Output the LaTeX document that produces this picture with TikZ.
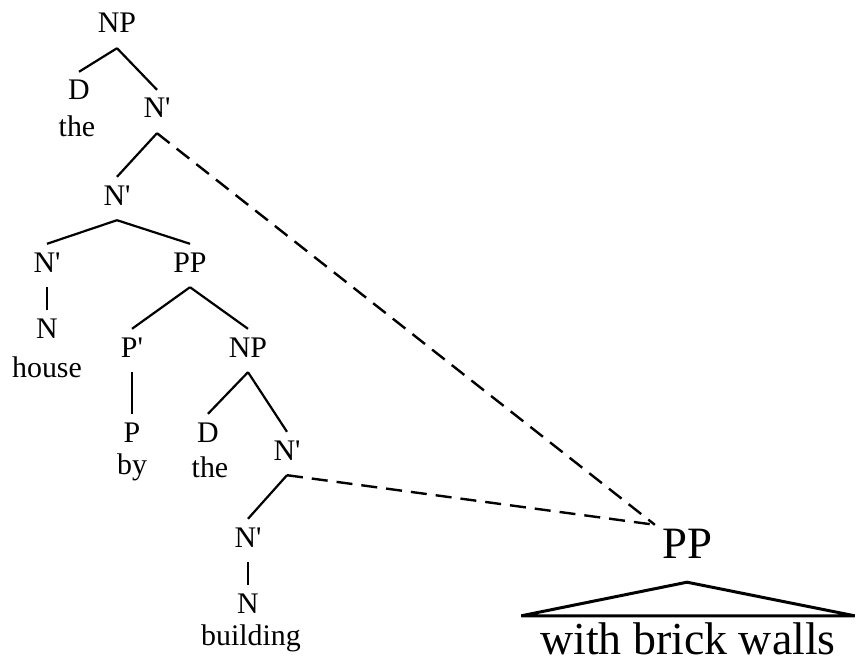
\documentclass[tikz,border=0pt]{standalone}
\usepackage{fontspec}
\newfontfamily\treefont{Liberation Serif}
\usepackage{tikz}

\begin{document}
\begin{tikzpicture}[x=1bp, y=-1bp,
  cat/.style={anchor=base, inner sep=0pt, text height=28bp, text depth=15bp,
    font=\treefont\fontsize{30}{32}\selectfont},
  word/.style={anchor=base, inner sep=0pt, font=\treefont\fontsize{30}{32}\selectfont},
  branch/.style={line width=2.2bp},
  moved/.style={line width=2.4bp, dash pattern=on 16bp off 9bp},
  roof/.style={line width=3bp, line join=bevel}]
  \useasboundingbox (0,0) rectangle (856,663);

  % Upper NP
  \node[cat] (np1) at (117,33) {NP};
  \node[cat] (d1) at (79,100) {D};
  \node[word] (the1) at (77,137) {the};
  \node[cat] (nb1) at (157,118) {N'};
  \node[cat] (nb2) at (117,205) {N'};
  \draw[branch] (np1.south) -- (d1.north);
  \draw[branch] (np1.south) -- (nb1.north);
  \draw[branch] (nb1.south) -- (nb2.north);

  % house + PP
  \node[cat] (nb3) at (47,272) {N'};
  \node[cat] (pp1) at (190,272) {PP};
  \node[cat] (n1) at (47,338) {N};
  \node[word] (house) at (47,377) {house};
  \draw[branch] (nb2.south) -- (nb3.north);
  \draw[branch] (nb2.south) -- (pp1.north);
  \draw[branch] (nb3.south) -- (n1.north);

  % by the building
  \node[cat] (pb1) at (132,357) {P'};
  \node[cat] (np2) at (248,357) {NP};
  \node[cat] (p1) at (132,442) {P};
  \node[word] (by) at (132,474) {by};
  \node[cat] (d2) at (208,442) {D};
  \node[word] (the2) at (210,477) {the};
  \node[cat] (nb4) at (287,460) {N'};
  \node[cat] (nb5) at (248,547) {N'};
  \node[cat] (n2) at (248,613) {N};
  \node[word] (bldg) at (251,645) {building};
  \draw[branch] (pp1.south) -- (pb1.north);
  \draw[branch] (pp1.south) -- (np2.north);
  \draw[branch] (pb1.south) -- (p1.north);
  \draw[branch] (np2.south) -- (d2.north);
  \draw[branch] (np2.south) -- (nb4.north);
  \draw[branch] (nb4.south) -- (nb5.north);
  \draw[branch] (nb5.south) -- (n2.north);

  % Attached PP
  \node[anchor=base, inner xsep=7bp, inner ysep=2bp, text height=31bp, text depth=22bp,
    font=\treefont\fontsize{45}{47}\selectfont] (ppb) at (687,558) {PP};
  \node[anchor=base, inner xsep=0pt, inner ysep=2bp, text height=36bp, text depth=0pt,
    minimum width=333bp, font=\treefont\fontsize{46}{48}\selectfont] (wbw) at (688,654) {with brick walls};
  \draw[roof] (ppb.south) -- (wbw.north east) -- (wbw.north west) -- cycle;

  % Attachment sites
  \draw[moved] (nb1.south) -- (ppb.north west);
  \draw[moved] (nb4.south) -- (ppb.north west);
\end{tikzpicture}
\end{document}
